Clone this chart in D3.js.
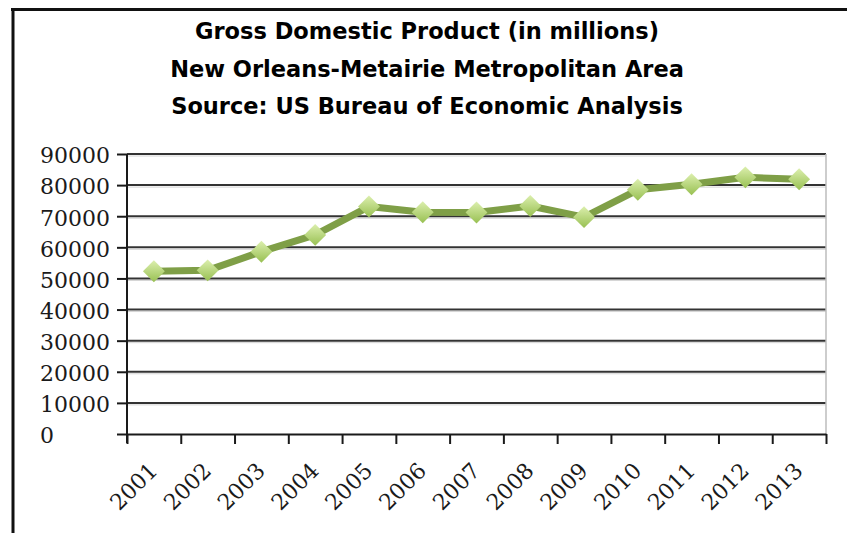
<!DOCTYPE html>
<html>
<head>
<meta charset="utf-8">
<script src="https://cdn.jsdelivr.net/npm/d3@7"></script>
<style>
  body { margin: 0; background: #fff; }
  .title { font-family: "DejaVu Sans", sans-serif; font-weight: bold; font-size: 22.5px; fill: #000; }
  .lbl { font-family: "DejaVu Serif", serif; font-size: 22px; fill: #1a1a1a; }
  .grid line { stroke: #333; stroke-width: 2; }
  .axis path, .axis line { stroke: #1a1a1a; stroke-width: 2; }
</style>
</head>
<body>
<div id="chart"></div>
<script>
var w = 847;
var h = 533;

// chart data
var years = ["2001","2002","2003","2004","2005","2006","2007","2008","2009","2010","2011","2012","2013"];
var gdp = [52300, 52600, 58600, 64000, 73100, 71300, 71200, 73300, 69700, 78500, 80300, 82500, 81900];
var yTicks = [0, 10000, 20000, 30000, 40000, 50000, 60000, 70000, 80000, 90000];
var titleLines = ["Gross Domestic Product (in millions)",
                  "New Orleans-Metairie Metropolitan Area",
                  "Source: US Bureau of Economic Analysis"];

var plotL = 127, plotR = 826, plotT = 154, plotB = 434;

function drawChart() {
    var svg = d3.select("#chart")
        .append("svg")
        .attr("width", w)
        .attr("height", h);

    // outer frame (only top and left visible in the picture)
    svg.append("line").attr("x1", 11).attr("y1", 9.5).attr("x2", w).attr("y2", 9.5)
        .attr("stroke", "#111").attr("stroke-width", 3);
    svg.append("line").attr("x1", 13).attr("y1", 8).attr("x2", 13).attr("y2", h)
        .attr("stroke", "#111").attr("stroke-width", 3);

    svg.selectAll("text.title")
        .data(titleLines)
        .enter().append("text")
        .attr("class", "title")
        .attr("x", 427)
        .attr("y", function(d, i) { return 39 + i * 37.5; })
        .attr("text-anchor", "middle")
        .text(function(d) { return d; });

    var xScale = d3.scaleBand().domain(years).range([plotL, plotR]);
    var xEdges = d3.scaleLinear().domain([0, years.length]).range([plotL, plotR]);
    var yScale = d3.scaleLinear().domain([0, 90000]).range([plotB, plotT]);

    // horizontal gridlines
    var grid = svg.append("g").attr("class", "grid");
    grid.selectAll("line.shadow")
        .data(yTicks.slice(1))
        .enter().append("line")
        .attr("class", "shadow")
        .attr("x1", plotL).attr("x2", plotR)
        .attr("y1", function(d) { return yScale(d) + 2; })
        .attr("y2", function(d) { return yScale(d) + 2; })
        .style("stroke", "#d4d4d4").style("stroke-width", 1);
    grid.selectAll("line.main")
        .data(yTicks.slice(1))
        .enter().append("line")
        .attr("class", "main")
        .attr("x1", plotL).attr("x2", plotR)
        .attr("y1", function(d) { return yScale(d); })
        .attr("y2", function(d) { return yScale(d); });

    // right edge of plot area
    svg.append("line")
        .attr("x1", plotR).attr("x2", plotR)
        .attr("y1", plotT).attr("y2", plotB)
        .attr("stroke", "#bdbdbd").attr("stroke-width", 1.5);

    // y axis, labels left-aligned as in the original
    var yAxis = d3.axisLeft(yScale)
        .tickValues(yTicks)
        .tickSize(10)
        .tickSizeOuter(0)
        .tickFormat(function(d) { return d; });

    var gy = svg.append("g")
        .attr("class", "axis")
        .attr("transform", "translate(" + plotL + ",0)")
        .call(yAxis);
    gy.attr("font-size", null).attr("font-family", null);
    gy.select(".domain").attr("d", "M0," + plotT + "V" + (plotB + 9));
    gy.selectAll("text")
        .attr("class", "lbl")
        .attr("text-anchor", "start")
        .attr("x", 40 - plotL)
        .attr("dy", "0.4em");

    // x axis (ticks between categories)
    var xAxis = d3.axisBottom(xEdges)
        .tickValues(d3.range(0, years.length + 1))
        .tickSize(10)
        .tickSizeOuter(0)
        .tickFormat("");

    svg.append("g")
        .attr("class", "axis")
        .attr("transform", "translate(0," + plotB + ")")
        .call(xAxis);

    svg.selectAll("text.xl")
        .data(years)
        .enter().append("text")
        .attr("class", "lbl xl")
        .attr("text-anchor", "end")
        .attr("transform", function(d) {
            return "translate(" + (xScale(d) + xScale.bandwidth() / 2 + 5) + "," + (plotB + 38) + ") rotate(-45)";
        })
        .text(function(d) { return d; });

    // data line
    var line = d3.line()
        .x(function(d, i) { return xScale(years[i]) + xScale.bandwidth() / 2; })
        .y(function(d) { return yScale(d); });

    svg.append("path")
        .datum(gdp)
        .attr("fill", "none")
        .attr("stroke", "#7f9f47")
        .attr("stroke-width", 7)
        .attr("stroke-linejoin", "round")
        .attr("d", line);

    // diamond markers with gradient
    var defs = svg.append("defs");
    var grad = defs.append("linearGradient")
        .attr("id", "mk")
        .attr("x1", 0).attr("y1", 0).attr("x2", 1).attr("y2", 1);
    grad.append("stop").attr("offset", "0%").attr("stop-color", "#dcefae");
    grad.append("stop").attr("offset", "100%").attr("stop-color", "#98c052");

    svg.selectAll("path.marker")
        .data(gdp)
        .enter().append("path")
        .attr("class", "marker")
        .attr("d", d3.symbol().type(d3.symbolSquare).size(240))
        .attr("fill", "url(#mk)")
        .attr("transform", function(d, i) {
            return "translate(" + (xScale(years[i]) + xScale.bandwidth() / 2) + "," + yScale(d) + ") rotate(45)";
        });
}

drawChart();
</script>
</body>
</html>
